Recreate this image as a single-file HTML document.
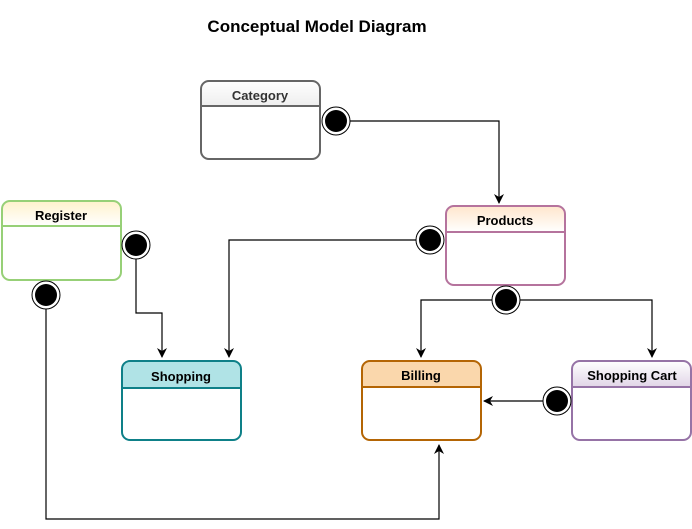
<!DOCTYPE html>
<html><head><meta charset="utf-8"><style>
html,body{margin:0;padding:0;background:#fff;}
svg{display:block;font-family:"Liberation Sans",Arial,sans-serif;}
</style></head><body>
<svg width="692" height="529" viewBox="0 0 692 529" xmlns="http://www.w3.org/2000/svg">
<defs>
<linearGradient id="gCat" x1="0" y1="0" x2="0" y2="1"><stop offset="0" stop-color="#ffffff"/><stop offset="1" stop-color="#eeeeee"/></linearGradient>
<linearGradient id="gProd" x1="0" y1="0" x2="0" y2="1"><stop offset="0" stop-color="#ffe6cc"/><stop offset="1" stop-color="#ffffff"/></linearGradient>
<linearGradient id="gReg" x1="0" y1="0" x2="0" y2="1"><stop offset="0" stop-color="#fff2cc"/><stop offset="1" stop-color="#ffffff"/></linearGradient>
<linearGradient id="gCart" x1="0" y1="0" x2="0" y2="1"><stop offset="0" stop-color="#ffffff"/><stop offset="1" stop-color="#e1d5e7"/></linearGradient>
<marker id="ar" viewBox="0 0 10 10" refX="9" refY="5" markerWidth="10" markerHeight="10" orient="auto" markerUnits="userSpaceOnUse"><path d="M0,0 L10,5 L0,10 L3,5 z" fill="#000"/></marker>
</defs>
<text x="317" y="32" text-anchor="middle" font-size="17" font-weight="bold" fill="#000">Conceptual Model Diagram</text>

<g fill="none" stroke="#000" stroke-width="1.2">
<path d="M350,121 H499 V203" marker-end="url(#ar)"/>
<path d="M416,240 H229 V357" marker-end="url(#ar)"/>
<path d="M136,259 V313 H162 V357" marker-end="url(#ar)"/>
<path d="M46,309 V519 H439 V445" marker-end="url(#ar)"/>
<path d="M492,300 H421 V357" marker-end="url(#ar)"/>
<path d="M520,300 H652 V357" marker-end="url(#ar)"/>
<path d="M543,401 H484" marker-end="url(#ar)"/>
</g>

<g stroke-width="2">
<g>
<path d="M208,81 H312 Q320,81 320,89 V106 H201 V89 Q201,81 208,81 Z" fill="url(#gCat)" stroke="none"/>
<rect x="201" y="81" width="119" height="78" rx="8" fill="none" stroke="#666"/>
<line x1="201" y1="106" x2="320" y2="106" stroke="#666"/>
<text x="260" y="100" text-anchor="middle" font-size="13" font-weight="bold" fill="#333" stroke="none">Category</text>
</g>
<g>
<path d="M453,206 H557 Q565,206 565,214 V232 H446 V214 Q446,206 453,206 Z" fill="url(#gProd)"/>
<rect x="446" y="206" width="119" height="79" rx="8" fill="none" stroke="#b5739d"/>
<line x1="446" y1="232" x2="565" y2="232" stroke="#b5739d"/>
<text x="505" y="225" text-anchor="middle" font-size="13" font-weight="bold" fill="#000" stroke="none">Products</text>
</g>
<g>
<path d="M9,201 H113 Q121,201 121,209 V226 H2 V209 Q2,201 9,201 Z" fill="url(#gReg)"/>
<rect x="2" y="201" width="119" height="79" rx="8" fill="none" stroke="#97d077"/>
<line x1="2" y1="226" x2="121" y2="226" stroke="#97d077"/>
<text x="61" y="220" text-anchor="middle" font-size="13" font-weight="bold" fill="#000" stroke="none">Register</text>
</g>
<g>
<path d="M129,361 H233 Q241,361 241,369 V388 H122 V369 Q122,361 129,361 Z" fill="#b0e3e6"/>
<rect x="122" y="361" width="119" height="79" rx="8" fill="none" stroke="#0e8088"/>
<line x1="122" y1="388" x2="241" y2="388" stroke="#0e8088"/>
<text x="181" y="381" text-anchor="middle" font-size="13" font-weight="bold" fill="#000" stroke="none">Shopping</text>
</g>
<g>
<path d="M369,361 H473 Q481,361 481,369 V387 H362 V369 Q362,361 369,361 Z" fill="#fad7ac"/>
<rect x="362" y="361" width="119" height="79" rx="8" fill="none" stroke="#b46504"/>
<line x1="362" y1="387" x2="481" y2="387" stroke="#b46504"/>
<text x="421" y="380" text-anchor="middle" font-size="13" font-weight="bold" fill="#000" stroke="none">Billing</text>
</g>
<g>
<path d="M579,361 H683 Q691,361 691,369 V387 H572 V369 Q572,361 579,361 Z" fill="url(#gCart)"/>
<rect x="572" y="361" width="119" height="79" rx="8" fill="none" stroke="#9673a6"/>
<line x1="572" y1="387" x2="691" y2="387" stroke="#9673a6"/>
<text x="632" y="380" text-anchor="middle" font-size="13" font-weight="bold" fill="#000" stroke="none">Shopping Cart</text>
</g>
</g>

<g fill="#fff" stroke="#000" stroke-width="1">
<circle cx="336" cy="121" r="14"/><circle cx="430" cy="240" r="14"/>
<circle cx="136" cy="245" r="14"/><circle cx="46" cy="295" r="14"/>
<circle cx="506" cy="300" r="14"/><circle cx="557" cy="401" r="14"/>
</g>
<g fill="#000">
<circle cx="336" cy="121" r="11"/><circle cx="430" cy="240" r="11"/>
<circle cx="136" cy="245" r="11"/><circle cx="46" cy="295" r="11"/>
<circle cx="506" cy="300" r="11"/><circle cx="557" cy="401" r="11"/>
</g>
</svg>
</body></html>
